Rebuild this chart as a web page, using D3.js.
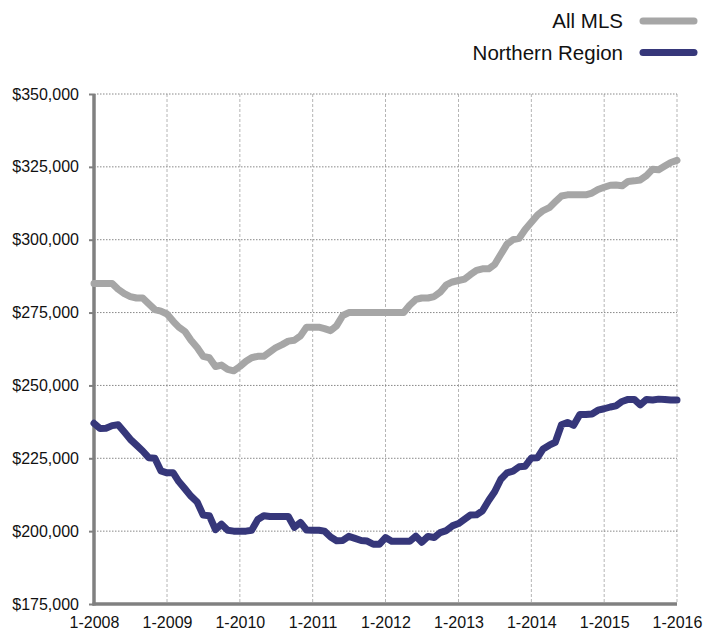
<!DOCTYPE html>
<html>
<head>
<meta charset="utf-8">
<script src="https://cdn.jsdelivr.net/npm/d3@7"></script>
<style>
  body { margin: 0; background: #fff; }
  text { font-family: "Liberation Sans", Arial, Helvetica, sans-serif; fill: #111; }
</style>
</head>
<body>
<script>
// monthly median price, Jan 2008 .. Jan 2016 (thousands of $)
var allMLS = [285,285,285,285,283,281.5,280.5,280,280,278,276,275.5,
  274.5,272,270,268.5,265.5,263,260,259.5,256.5,257,255.5,255,
  256.5,258.3,259.5,260,260,261.5,263,264,265.2,265.5,267,270,
  270,270,269.5,268.8,270.5,274,275,275,275,275,275,275,
  275,275,275,275,277.5,279.5,280,280,280.5,282,284.5,285.5,
  286,286.5,288,289.5,290,290,291.5,295,298.5,300,300.5,303.5,
  306,308.5,310,311,313,315,315.4,315.4,315.4,315.4,316,317.2,
  318,318.7,318.8,318.5,320,320.2,320.5,322,324.2,324,325.3,326.5,
  327.2];
var northern = [237,235.2,235.3,236.2,236.5,234,231.5,229.5,227.5,225.2,225,220.7,
  220,220,217,214.5,212,210,205.5,205.3,200.5,202.4,200.3,200,
  200,200,200.3,204,205.3,205,205,205,205,201.3,203,200.4,
  200.3,200.3,200,198,196.7,196.8,198.2,197.5,196.8,196.6,195.5,195.5,
  197.8,196.5,196.5,196.5,196.5,198.3,196.2,198.2,197.8,199.5,200.2,201.8,
  202.6,204.1,205.5,205.6,207,210.5,213.5,217.8,220,220.6,222.1,222.3,
  225.1,225.2,228.2,229.5,230.5,236.5,237.3,236.3,240,240,240.2,241.5,
  242,242.6,243,244.5,245.2,245.2,243.3,245.2,245,245.3,245.2,245,
  245];
var seriesNames = ["All MLS", "Northern Region"];
var seriesColors = ["#a6a6a6", "#36377a"];
var yTicks = [175000,200000,225000,250000,275000,300000,325000,350000];
var xTickLabels = ["1-2008","1-2009","1-2010","1-2011","1-2012","1-2013","1-2014","1-2015","1-2016"];

var W = 719, H = 631;
var margin = {top: 94, right: 42, bottom: 27, left: 94};
var w = W - margin.left - margin.right, h = H - margin.top - margin.bottom;

var start = new Date(2008, 0, 1);
var months = allMLS.map(function(d, i){ return d3.timeMonth.offset(start, i); });
var xTickDates = xTickLabels.map(function(s){ return new Date(+s.split("-")[1], 0, 1); });

var svg = d3.select("body").append("svg").attr("width", W).attr("height", H);
var g = svg.append("g").attr("transform", "translate(" + margin.left + "," + margin.top + ")");

var x = d3.scaleTime().domain([start, xTickDates[xTickDates.length - 1]]).range([0, w]);
var y = d3.scaleLinear().domain([175000, 350000]).range([h, 0]);

// vertical grid
g.append("g").selectAll("line").data(xTickDates.slice(1)).join("line")
  .attr("x1", d => x(d)).attr("x2", d => x(d)).attr("y1", 0).attr("y2", h)
  .attr("stroke", "#b5b5b5").attr("stroke-width", 1).attr("stroke-dasharray", "3,2");

// horizontal grid
g.append("g").selectAll("line").data(yTicks.slice(1)).join("line")
  .attr("x1", 0).attr("x2", w).attr("y1", d => y(d)).attr("y2", d => y(d))
  .attr("stroke", "#888").attr("stroke-width", 1).attr("stroke-dasharray", "1.5,1.5");

// axes
var yAxis = g.append("g").call(d3.axisLeft(y).tickValues(yTicks)
  .tickFormat(d => "$" + d3.format(",")(d)).tickSize(5).tickPadding(10));
var xAxis = g.append("g").attr("transform", "translate(0," + h + ")")
  .call(d3.axisBottom(x).tickValues(xTickDates).tickFormat((d, i) => xTickLabels[i]).tickSize(0).tickPadding(13));
[yAxis, xAxis].forEach(function(a){
  a.select(".domain").attr("stroke", "#808080").attr("stroke-width", 3.5);
  a.selectAll(".tick line").attr("stroke", "#808080").attr("stroke-width", 2);
  a.selectAll("text").attr("font-size", 16).attr("fill", "#111")
    .attr("font-family", '"Liberation Sans", Arial, sans-serif');
});
yAxis.select(".domain").attr("d", "M0," + (h + 1.5) + "V0");
xAxis.select(".domain").attr("d", "M-1.5,0H" + w);

// lines
var data = [allMLS, northern];
var line = d3.line().x((d, i) => x(months[i])).y(d => y(d * 1000));
g.selectAll(".series").data(data).join("path")
  .attr("class", "series")
  .attr("d", line)
  .attr("fill", "none")
  .attr("stroke", (d, i) => seriesColors[i])
  .attr("stroke-width", 7)
  .attr("stroke-linejoin", "round")
  .attr("stroke-linecap", "round");

// legend
var legend = svg.append("g");
seriesNames.forEach(function(name, i){
  var yy = 21 + i * 31.5;
  legend.append("text").attr("x", 623).attr("y", yy).attr("dy", "0.35em")
    .attr("text-anchor", "end").attr("font-size", 20.5).text(name);
  legend.append("line").attr("x1", 643).attr("x2", 694).attr("y1", yy).attr("y2", yy)
    .attr("stroke", seriesColors[i]).attr("stroke-width", 7).attr("stroke-linecap", "round");
});
</script>
</body>
</html>
